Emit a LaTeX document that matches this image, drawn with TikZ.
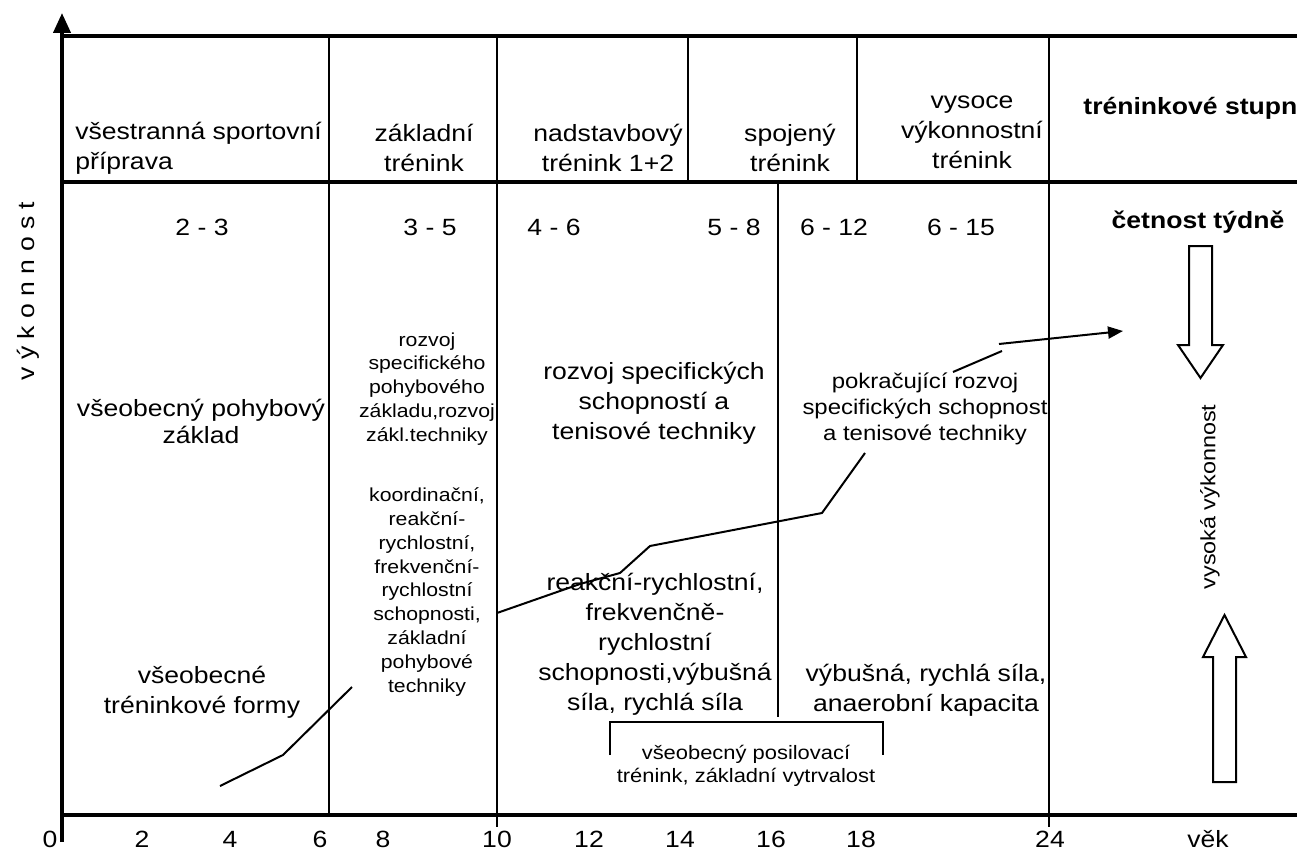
\documentclass[tikz,border=0pt]{standalone}
\usepackage{fontspec}
\setmainfont{Liberation Sans}[FakeStretch=1.13]
\usepackage{tikz}
\usetikzlibrary{arrows.meta}

\begin{document}
\begin{tikzpicture}[
  x=0.5pt, y=-0.5pt,
  big/.style={align=center, inner sep=0pt, font=\fontsize{11.75}{15}\selectfont},
  mid/.style={align=center, inner sep=0pt, font=\fontsize{10.6}{13}\selectfont},
  small/.style={align=center, inner sep=0pt, font=\fontsize{9.4}{11.95}\selectfont},
  head/.style={inner sep=0pt, font=\fontsize{11.75}{15}\selectfont\bfseries},
  axis/.style={line width=2pt},
  grid/.style={line width=1.1pt},
  curve/.style={line width=1pt},
  hollow/.style={draw, line width=1pt, fill=white, line join=miter},
]

\useasboundingbox (0,0) rectangle (1297,856);

% Axes and table lines
\draw[axis, -{Triangle[length=10pt, width=8.5pt]}] (62,842) -- (62,13);
\draw[axis] (62,36) -- (1297,36);
\draw[axis] (62,182) -- (1297,182);
\draw[axis] (62,815) -- (1297,815);
\draw[grid] (329,36) -- (329,815);
\draw[grid] (497,36) -- (497,827);
\draw[grid] (688,36) -- (688,182);
\draw[grid] (778,182) -- (778,717);
\draw[grid] (857,36) -- (857,182);
\draw[grid] (1049,36) -- (1049,827);

% Training stages
\node[big, align=left, anchor=west] (allround) at (75,148) {všestranná sportovní\\příprava};
\node[big] (basic) at (424,148) {základní\\trénink};
\node[big] (advanced) at (608,148) {nadstavbový\\trénink 1+2};
\node[big] (joined) at (790,148) {spojený\\trénink};
\node[big] (elite) at (972,132) {vysoce\\výkonnostní\\trénink};
\node[head, anchor=west] (stages) at (1083,108) {tréninkové stupn};

% Sessions per week
\node[big] (freqA) at (202,227) {2 - 3};
\node[big] (freqB) at (430,227) {3 - 5};
\node[big] (freqC) at (554,227) {4 - 6};
\node[big] (freqD) at (734,227) {5 - 8};
\node[big] (freqE) at (834,227) {6 - 12};
\node[big] (freqF) at (961,227) {6 - 15};
\node[head] (weekly) at (1198,222) {četnost týdně};

% Contents
\node[big, font=\fontsize{11.75}{13.5}\selectfont] (genbase) at (201,421) {všeobecný pohybový\\základ};
\node[small] (specbase) at (427,389) {rozvoj\\specifického\\pohybového\\základu,rozvoj\\zákl.techniky};
\node[small] (coord) at (427,592) {koordinační,\\reakční-\\rychlostní,\\frekvenční-\\rychlostní\\schopnosti,\\základní\\pohybové\\techniky};
\node[big] (specskill) at (654,403) {rozvoj specifických\\schopností a\\tenisové techniky};
\node[mid] (further) at (925,409) {pokračující rozvoj\\specifických schopnost\\a tenisové techniky};
\node[big] (speed) at (655,644) {reakční-rychlostní,\\frekvenčně-\\rychlostní\\schopnosti,výbušná\\síla, rychlá síla};
\node[big] (genforms) at (202,692) {všeobecné\\tréninkové formy};
\node[big] (power) at (926,690) {výbušná, rychlá síla,\\anaerobní kapacita};
\node[small, font=\fontsize{9.7}{11.5}\selectfont] (strength) at (746,766) {všeobecný posilovací\\trénink, základní vytrvalost};
\draw[grid] (610,755) -- (610,722) -- (883,722) -- (883,755);

% Performance curve
\draw[curve] (220,786) -- (283,755) -- (352,687);
\draw[curve] (497,613) -- (580,584) -- (620,573) -- (650,546) -- (822,513) -- (865,453);
\draw[curve] (953,372) -- (1002,351);
\draw[curve, -{Triangle[length=7.5pt, width=6pt]}] (999,344) -- (1123,331);

% High performance arrows
\draw[hollow] (1189,246) -- (1212,246) -- (1212,345) -- (1223,345) -- (1200.5,378) -- (1178,345) -- (1189,345) -- cycle;
\draw[hollow] (1213,782) -- (1236,782) -- (1236,657) -- (1246,657) -- (1224.5,615) -- (1203,657) -- (1213,657) -- cycle;
\node[inner sep=0pt, rotate=90, font=\fontsize{10.35}{12}\selectfont] (highperf) at (1210,497) {vysoká výkonnost};

% Axis labels
\node[big, rotate=90] (perf) at (28,291) {v ý k o n n o s t};
\foreach \lab/\xx in {0/50, 2/142, 4/230, 6/320, 8/383, 10/497, 12/589, 14/680, 16/771, 18/861, 24/1050}
  \node[big] (age\lab) at (\xx,839) {\lab};
\node[big] (age) at (1208,839) {věk};

\end{tikzpicture}
\end{document}
